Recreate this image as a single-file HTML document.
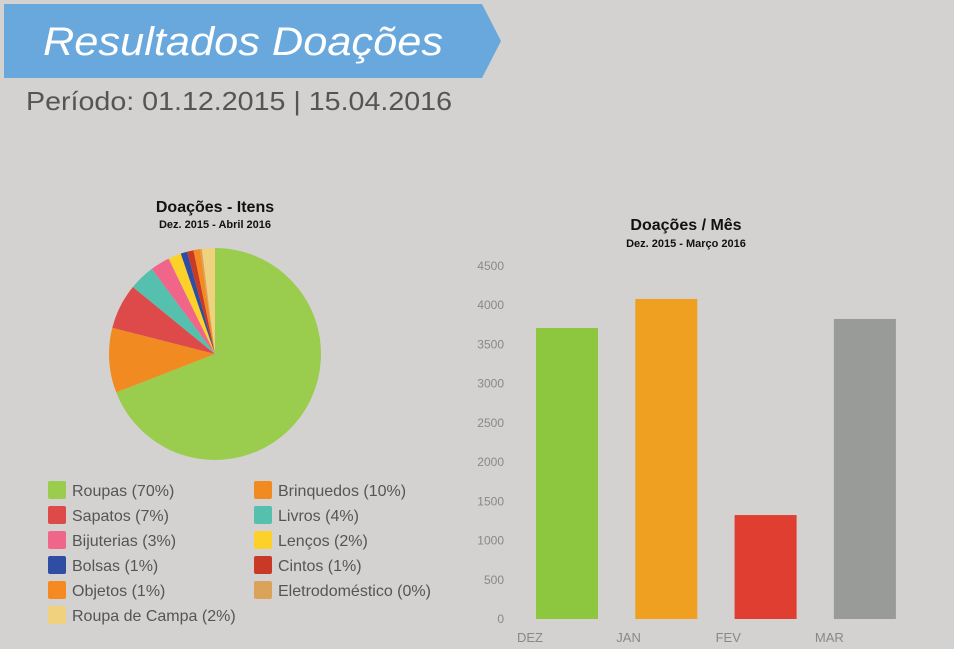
<!DOCTYPE html>
<html><head><meta charset="utf-8"><style>
html,body{margin:0;padding:0;width:954px;height:649px;overflow:hidden;background:#d3d2d0}
svg{display:block;font-family:"Liberation Sans",sans-serif}
</style></head><body>
<svg id="s" width="954" height="649" viewBox="0 0 954 649">
<rect x="0" y="0" width="954" height="649" fill="#d3d2d0"/>
<polygon points="4,4 482,4 501,41 482,78 4,78" fill="#69a8dc"/>
<text x="43" y="55" font-size="40" font-style="italic" fill="#fff" textLength="400" lengthAdjust="spacingAndGlyphs">Resultados Doações</text>
<text x="26" y="110" font-size="26" fill="#555" textLength="426" lengthAdjust="spacingAndGlyphs">Período: 01.12.2015 | 15.04.2016</text>
<text x="215" y="212" font-size="16" font-weight="bold" text-anchor="middle" fill="#111">Doações - Itens</text>
<text x="215" y="228" font-size="11" font-weight="bold" text-anchor="middle" fill="#111">Dez. 2015 - Abril 2016</text>
<g id="pie"></g>
<g id="legend"></g>
<text x="686" y="230" font-size="16" font-weight="bold" text-anchor="middle" fill="#111">Doações / Mês</text>
<text x="686" y="247" font-size="11" font-weight="bold" text-anchor="middle" fill="#111">Dez. 2015 - Março 2016</text>
<g id="bars"></g>
</svg>
<script>
const pieLabels=["Roupas","Brinquedos","Sapatos","Livros","Bijuterias","Lenços","Bolsas","Cintos","Objetos","Eletrodoméstico","Roupa de Campa"];
const pieValues=[70,10,7,4,3,2,1,1,1,0.3,2];
const pieText=["70%","10%","7%","4%","3%","2%","1%","1%","1%","0%","2%"];
const pieColors=["#9acd4e","#f28a22","#de4a49","#55c0ae","#f0668a","#fcd12a","#2f4ea3","#c83a26","#f68a22","#dba35a","#efd17e"];
const legendOrder=[0,1,2,3,4,5,6,7,8,9,10];
const months=["DEZ","JAN","FEV","MAR"];
const monthValues=[3710,4080,1325,3825];
const barColors=["#8dc63f","#f0a020","#e03e30","#999b99"];
const yTicks=[0,500,1000,1500,2000,2500,3000,3500,4000,4500];
const NS="http://www.w3.org/2000/svg";
function mk(t,a,p){const e=document.createElementNS(NS,t);for(const k in a)e.setAttribute(k,a[k]);p.appendChild(e);return e;}
// pie
const pie=document.getElementById('pie');
const cx=215,cy=354,r=106;const tot=pieValues.reduce((a,b)=>a+b,0);
let ang=0;
pieValues.forEach((v,i)=>{const a0=ang,a1=ang+v/tot*2*Math.PI;ang=a1;
 const x0=cx+r*Math.sin(a0),y0=cy-r*Math.cos(a0),x1=cx+r*Math.sin(a1),y1=cy-r*Math.cos(a1);
 const large=(a1-a0)>Math.PI?1:0;
 const p=mk('path',{d:`M${cx},${cy}L${x0},${y0}A${r},${r} 0 ${large} 1 ${x1},${y1}Z`,fill:pieColors[i]},pie);
 
 
});
// legend
const lg=document.getElementById('legend');
legendOrder.forEach((idx,k)=>{const col=k%2,row=Math.floor(k/2);
 const x=48+col*206,y=481+row*25;
 const g=mk('g',{},lg);
 
 
 mk('rect',{x:x,y:y,width:18,height:18,rx:2,fill:pieColors[idx]},g);
 const t=mk('text',{x:x+24,y:y+15,'font-size':16,fill:'#555'},g);
 t.textContent=pieLabels[idx]+" ("+pieText[idx]+")";
});
// bars
const bg=document.getElementById('bars');
const y0=619,yTop=266,vmax=4500;
const yS=v=>y0-(v/vmax)*(y0-yTop);
yTicks.forEach(v=>{const t=mk('text',{x:504,y:yS(v)+4,'font-size':12,fill:'#888','text-anchor':'end'},bg);
 
 
 t.textContent=v;});
const x0b=536,step=99.3,bw=62;
months.forEach((m,i)=>{const x=x0b+i*step;
 const b=mk('rect',{x:x,y:yS(monthValues[i]),width:bw,height:y0-yS(monthValues[i]),fill:barColors[i]},bg);
 
 
 const t=mk('text',{x:x-19,y:642,'font-size':13,fill:'#888'},bg);
 
 
 t.textContent=m;});
</script>
</body></html>
